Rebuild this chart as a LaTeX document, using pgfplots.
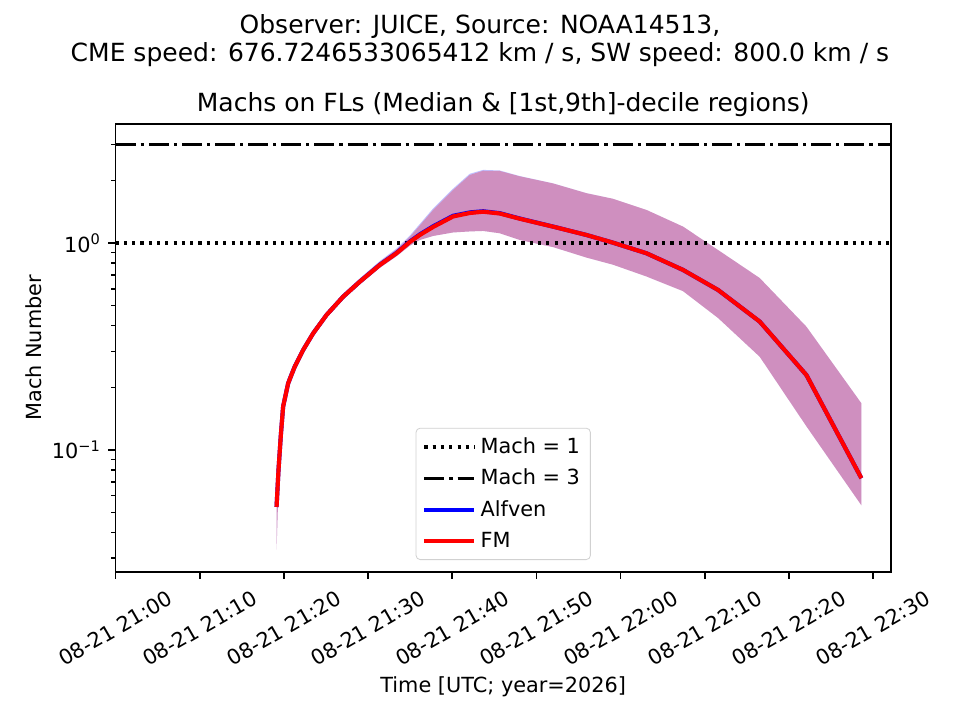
\documentclass[border=0pt]{standalone}
\usepackage{fontspec}
\setmainfont{DejaVu Sans}
\usepackage{pgfplots}
\pgfplotsset{compat=1.18}
\usepgfplotslibrary{fillbetween}
\usepackage{pgfplotstable}

\pgfplotstableread{
x     med    lo     hi     amed   ahi
19.12 0.053  0.033  0.058  0.053  0.059
19.35 0.080  0.065  0.092  0.080  0.094
19.63 0.118  0.104  0.134  0.118  0.136
19.90 0.162  0.150  0.176  0.162  0.178
20.50 0.210  0.198  0.224  0.210  0.226
21.29 0.253  0.242  0.266  0.253  0.268
22.28 0.304  0.293  0.316  0.304  0.318
23.47 0.366  0.354  0.379  0.366  0.381
25.06 0.449  0.435  0.463  0.449  0.465
27.03 0.550  0.533  0.568  0.550  0.570
29.01 0.650  0.630  0.672  0.650  0.675
31.39 0.783  0.758  0.812  0.785  0.818
33.37 0.892  0.862  0.930  0.895  0.940
34.95 1.011  0.970  1.070  1.016  1.085
36.14 1.093  1.034  1.215  1.100  1.235
37.72 1.195  1.081  1.443  1.204  1.468
40.09 1.343  1.124  1.803  1.353  1.830
42.08 1.396  1.137  2.131  1.405  2.160
43.66 1.416  1.143  2.234  1.423  2.255
45.64 1.388  1.114  2.228  1.393  2.240
48.00 1.310  1.034  2.100  1.313  2.106
51.97 1.199  0.955  1.940  1.200  1.942
55.94 1.093  0.850  1.740  1.093  1.741
59.10 1.003  0.785  1.635  1.003  1.635
63.06 0.892  0.689  1.445  0.892  1.445
67.41 0.741  0.585  1.200  0.741  1.200
71.57 0.593  0.434  0.925  0.593  0.925
76.52 0.417  0.282  0.677  0.417  0.677
82.07 0.230  0.130  0.394  0.230  0.394
88.60 0.073  0.054  0.168  0.073  0.168
}\machdata

\begin{document}
\begin{tikzpicture}
\begin{axis}[
  at={(0,0)}, anchor=south west,
  scale only axis, width=372.1pt, height=214.9pt,
  ymode=log,
  xmin=0, xmax=92.1, ymin=0.0258, ymax=3.76,
  axis line style={line width=0.8pt},
  tick pos=left, tick align=outside,
  major tick length=3.5pt, minor tick length=2pt,
  every tick/.style={black, line width=0.8pt},
  every minor tick/.style={black, line width=0.6pt},
  xtick={0,10,20,30,40,50,60,70,80,90},
  xticklabels={08-21 21:00,08-21 21:10,08-21 21:20,08-21 21:30,08-21 21:40,08-21 21:50,08-21 22:00,08-21 22:10,08-21 22:20,08-21 22:30},
  xticklabel style={yshift=-23.7pt, rotate=30, anchor=center, font=\fontsize{10}{12}\selectfont},
  ytick={0.1,1},
  yticklabels={10\textsuperscript{−1},10\textsuperscript{0}},
  minor ytick={0.03,0.04,0.05,0.06,0.07,0.08,0.09,0.2,0.3,0.4,0.5,0.6,0.7,0.8,0.9,2,3},
  yticklabel style={font=\fontsize{10}{12}\selectfont},
  legend style={at={(0.387,0.026)}, anchor=south west, draw=black!18, rounded corners=2pt,
    fill=white, fill opacity=0.8, text opacity=1, font=\fontsize{10}{12}\selectfont,
    row sep=2pt, inner xsep=3pt, inner ysep=2.5pt},
  legend cell align=left,
  legend image code/.code={\draw[#1] (0pt,0pt) -- (21pt,0pt); \path (0pt,0pt) -- (24pt,0pt);},
]
\addplot[black, line width=1.5pt, dash pattern=on 1.5pt off 2.475pt] coordinates {(0,1) (92.1,1)};
\addlegendentry{Mach = 1}
\addplot[black, line width=1.5pt, dash pattern=on 9.6pt off 2.4pt on 1.5pt off 2.4pt] coordinates {(0,3) (92.1,3)};
\addlegendentry{Mach = 3}

\addplot[name path=aup, draw=none, forget plot] table[x=x, y=ahi]{\machdata};
\addplot[name path=alo, draw=none, forget plot] table[x=x, y=lo]{\machdata};
\addplot[blue, fill opacity=0.25, draw=none, forget plot] fill between[of=aup and alo];
\addplot[blue, line width=2pt] table[x=x, y=amed]{\machdata};
\addlegendentry{Alfven}

\addplot[name path=fup, draw=none, forget plot] table[x=x, y=hi]{\machdata};
\addplot[name path=flo, draw=none, forget plot] table[x=x, y=lo]{\machdata};
\addplot[red, fill opacity=0.25, draw=none, forget plot] fill between[of=fup and flo];
\addplot[red, line width=2pt] table[x=x, y=med]{\machdata};
\addlegendentry{FM}
\end{axis}
\node[anchor=base, font=\fontsize{12}{14}\selectfont] at (174.9pt,258.4pt) {Observer: JUICE, Source: NOAA14513,};
\node[anchor=base, font=\fontsize{12}{14}\selectfont] at (174.9pt,244.8pt) {CME speed: 676.7246533065412 km / s, SW speed: 800.0 km / s};
\node[anchor=base, font=\fontsize{12}{14}\selectfont] at (186.05pt,220.8pt) {Machs on FLs (Median \& [1st,9th]-decile regions)};
\node[anchor=base, font=\fontsize{10}{12}\selectfont] at (186.05pt,-57.8pt) {Time [UTC; year=2026]};
\node[anchor=base, rotate=90, font=\fontsize{10}{12}\selectfont] at (-35.8pt,107.45pt) {Mach Number};
\pgfresetboundingbox
\path[use as bounding box] (-55.5pt,-71.2pt) rectangle (405.3pt,274.4pt);
\end{tikzpicture}
\end{document}
